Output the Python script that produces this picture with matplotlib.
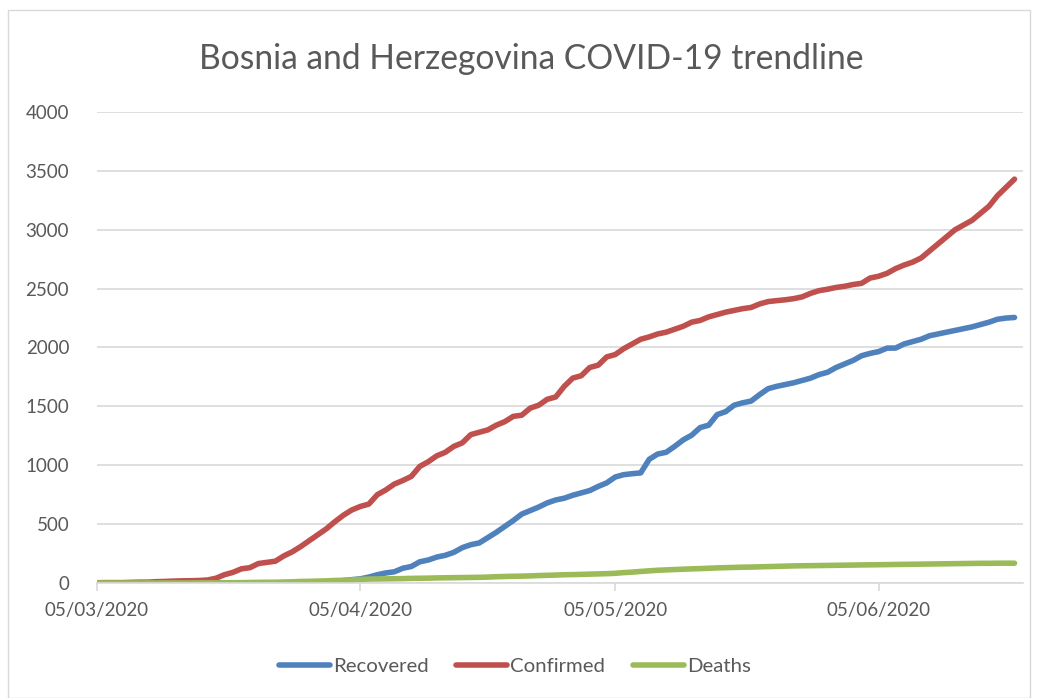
import matplotlib
matplotlib.use("Agg")
import matplotlib.pyplot as plt
import matplotlib.dates as mdates
import numpy as np
import pandas as pd
from matplotlib.patches import Rectangle

start_date = "2020-03-05"
n_days = 109
dates = pd.date_range(start_date, periods=n_days, freq="D")

confirmed = [2, 3, 3, 3, 5, 7, 7, 11, 13, 16, 18, 19, 21, 25, 40, 70, 90, 120, 130, 165,
             175, 185, 230, 265, 310, 360, 410, 460, 520, 575, 620, 650, 670, 750, 790, 840,
             870, 905, 990, 1030, 1080, 1110, 1160, 1190, 1260, 1280, 1300, 1340, 1370, 1415,
             1425, 1485, 1510, 1560, 1580, 1670, 1740, 1760, 1830, 1850, 1920, 1940, 1990, 2030,
             2070, 2090, 2115, 2130, 2155, 2180, 2215, 2230, 2260, 2280, 2300, 2315, 2330, 2340,
             2370, 2390, 2398, 2405, 2415, 2430, 2460, 2483, 2495, 2510, 2520, 2535, 2545, 2590,
             2605, 2630, 2670, 2700, 2725, 2760, 2820, 2880, 2940, 3000, 3040, 3080, 3140, 3200,
             3290, 3360, 3430]

recovered = [0] * 21 + [2, 2, 2, 3, 5, 8, 10, 15, 20, 28, 35, 50, 70, 85, 95, 125, 140, 180,
             195, 220, 235, 260, 300, 325, 340, 385, 430, 480, 530, 585, 615, 645, 680, 705, 720,
             745, 765, 785, 820, 850, 900, 920, 928, 935, 1050, 1095, 1110, 1160, 1215, 1255, 1320,
             1340, 1430, 1455, 1510, 1530, 1545, 1600, 1650, 1670, 1685, 1700, 1720, 1740, 1770,
             1790, 1830, 1860, 1890, 1930, 1950, 1965, 1995, 1995, 2030, 2050, 2070, 2100, 2115,
             2130, 2145, 2160, 2175, 2195, 2215, 2240, 2250, 2255]

deaths = [0] * 12 + [1, 1, 1, 1, 2, 3, 4, 5, 6, 6, 8, 10, 13, 14, 16, 18, 21, 23, 26, 30, 33,
          34, 35, 36, 37, 39, 40, 41, 43, 44, 45, 46, 47, 48, 50, 53, 55, 57, 58, 60, 63, 65, 67,
          70, 71, 73, 75, 77, 79, 82, 88, 92, 98, 103, 108, 111, 114, 117, 120, 122, 125, 128,
          130, 132, 134, 135, 137, 139, 141, 143, 145, 146, 147, 148, 149, 150, 151, 152, 153,
          154, 155, 156, 157, 158, 159, 160, 161, 162, 163, 164, 165, 166, 167, 167, 168, 168, 168]

series_names = ["Recovered", "Confirmed", "Deaths"]
series_colors = ["#4F81BD", "#C0504D", "#9BBB59"]
tick_dates = ["2020-03-05", "2020-04-05", "2020-05-05", "2020-06-05"]
title = "Bosnia and Herzegovina COVID-19 trendline"

plt.rcParams['font.family'] = ['Lato', 'DejaVu Sans']
text_color = "#595959"
grid_color = "#D9D9D9"

fig = plt.figure(figsize=(10.37, 6.98), dpi=100)
ax = fig.add_axes([0.0935, 0.1648, 0.893, 0.6747])

for name, vals, col in zip(series_names, [recovered, confirmed, deaths], series_colors):
    ax.plot(dates, vals, color=col, lw=4.0, label=name, solid_capstyle="round",
            solid_joinstyle="round")

ax.set_ylim(0, 4000)
ax.set_yticks(np.arange(0, 4001, 500))
ax.set_xlim(pd.Timestamp("2020-03-05"), pd.Timestamp("2020-06-22"))
ax.set_xticks([pd.Timestamp(d) for d in tick_dates])
ax.xaxis.set_major_formatter(mdates.DateFormatter("%d/%m/%Y"))

ax.grid(axis="y", color=grid_color, lw=1.2)
ax.set_axisbelow(True)
for s in ["top", "right", "left"]:
    ax.spines[s].set_visible(False)
ax.spines["bottom"].set_color(grid_color)
ax.spines["bottom"].set_linewidth(1.2)
ax.tick_params(axis="y", length=0, pad=20, labelsize=13.5, labelcolor=text_color)
ax.tick_params(axis="x", length=6, width=1.2, color=grid_color, pad=8, labelsize=13.5,
               labelcolor=text_color)

fig.text(0.512, 0.916, title, ha="center", va="center", fontsize=24.2, color=text_color)

leg = fig.legend(loc="center", bbox_to_anchor=(0.4966, 0.045), ncol=3, frameon=False,
                 fontsize=14.7, handlelength=2.5, columnspacing=1.37, handletextpad=0.15)
for t in leg.get_texts():
    t.set_color(text_color)

fig.patches.append(Rectangle((0.008, 0.0), 0.985, 0.985, transform=fig.transFigure,
                             fill=False, edgecolor=grid_color, lw=1))

fig.savefig("out.png", dpi=100)
